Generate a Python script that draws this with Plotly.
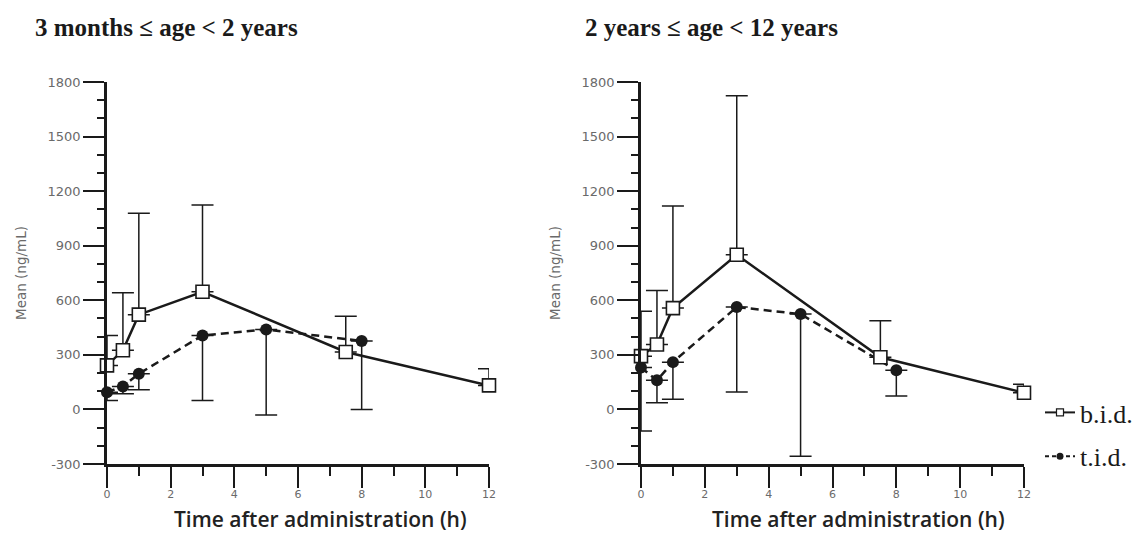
import plotly.graph_objects as go

# ---- data ----
time_bid = [0, 0.5, 1, 3, 7.5, 12]
time_tid = [0, 0.5, 1, 3, 5, 8]

left_bid_mean = [242, 325, 521, 647, 316, 132]
left_bid_upper = [407, 641, 1078, 1124, 512, 224]
left_tid_mean = [95, 126, 196, 407, 440, 376]
left_tid_lower = [49, 86, 108, 49, -30, 0]

right_bid_mean = [293, 357, 557, 850, 287, 92]
right_bid_upper = [540, 654, 1118, 1725, 488, 138]
right_tid_mean = [230, 160, 260, 563, 524, 215]
right_tid_lower = [-118, 37, 56, 96, -258, 74]

y_tick_vals = [-300, 0, 300, 600, 900, 1200, 1500, 1800]
y_tick_text = ["-300", "0", "300", "600", "900", "1200", "1500", "1800"]
x_tick_vals = [0, 2, 4, 6, 8, 10, 12]
x_tick_text = ["0", "2", "4", "6", "8", "10", "12"]

panel_titles = ["3 months \u2264 age < 2 years", "2 years \u2264 age < 12 years"]
x_title = "Time after administration (h)"
y_title = "Mean (ng/mL)"
series_names = ["b.i.d.", "t.i.d."]

BLACK = "#1a1a1a"
GRAY = "#6a6a6a"

fig = go.Figure()


def add_panel(xa, ya, bid_mean, bid_upper, tid_mean, tid_lower):
    fig.add_trace(go.Scatter(
        x=time_tid, y=tid_mean, mode="lines+markers", xaxis=xa, yaxis=ya,
        line=dict(color=BLACK, width=2.5, dash="8px,5px"),
        marker=dict(symbol="circle", size=12, color=BLACK),
        error_y=dict(type="data", symmetric=False,
                     array=[0] * len(tid_mean),
                     arrayminus=[m - l for m, l in zip(tid_mean, tid_lower)],
                     color=BLACK, thickness=1.5, width=11),
        cliponaxis=False, showlegend=False))
    fig.add_trace(go.Scatter(
        x=time_bid, y=bid_mean, mode="lines+markers", xaxis=xa, yaxis=ya,
        line=dict(color=BLACK, width=2.5),
        marker=dict(symbol="square", size=13, color="white",
                    line=dict(color=BLACK, width=1.6)),
        error_y=dict(type="data", symmetric=False,
                     array=[u - m for m, u in zip(bid_mean, bid_upper)],
                     arrayminus=[0] * len(bid_mean),
                     color=BLACK, thickness=1.5, width=11),
        cliponaxis=False, showlegend=False))


add_panel("x", "y", left_bid_mean, left_bid_upper, left_tid_mean, left_tid_lower)
add_panel("x2", "y2", right_bid_mean, right_bid_upper, right_tid_mean, right_tid_lower)

# legend-only entries
fig.add_trace(go.Scatter(
    x=[None], y=[None], mode="lines+markers", name=series_names[0],
    line=dict(color=BLACK, width=2),
    marker=dict(symbol="square", size=7, color="white", line=dict(color=BLACK, width=1.2)),
    legendgroup="a", xaxis="x2", yaxis="y2"))
fig.add_trace(go.Scatter(
    x=[None], y=[None], mode="lines+markers", name=series_names[1],
    line=dict(color=BLACK, width=2, dash="4px,3px"),
    marker=dict(symbol="circle", size=7, color=BLACK),
    legendgroup="b", xaxis="x2", yaxis="y2"))

W, H = 1147, 540
ydom = [(540 - 464) / H, (540 - 82) / H]


def xaxis(dom, anchor):
    return dict(domain=dom, anchor=anchor, range=[0, 12], showline=True,
                linecolor=BLACK, linewidth=2.5, showgrid=False, zeroline=False,
                automargin=False,
                ticks="outside", ticklen=21, tickwidth=2, tickcolor=BLACK,
                tickmode="array", tickvals=x_tick_vals, ticktext=x_tick_text,
                ticklabelstandoff=-3,
                minor=dict(dtick=1, tick0=0, ticks="outside", ticklen=9, tickwidth=2,
                           tickcolor=BLACK),
                tickfont=dict(family="DejaVu Sans", size=11, color=GRAY))


def yaxis(anchor):
    return dict(domain=ydom, anchor=anchor, range=[-300, 1800], showline=True,
                linecolor=BLACK, linewidth=2.5, showgrid=False, zeroline=False,
                automargin=False,
                ticks="outside", ticklen=21, tickwidth=2, tickcolor=BLACK,
                tickmode="array", tickvals=y_tick_vals, ticktext=y_tick_text,
                minor=dict(dtick=100, tick0=0, ticks="outside", ticklen=7, tickwidth=2,
                           tickcolor=BLACK),
                tickfont=dict(family="DejaVu Sans", size=13, color=GRAY),
                title=dict(text=y_title, standoff=18,
                           font=dict(family="DejaVu Sans", size=13.5, color=GRAY)))


fig.update_layout(
    width=W, height=H,
    margin=dict(l=0, r=0, t=0, b=0, autoexpand=False),
    paper_bgcolor="white", plot_bgcolor="white",
    xaxis=xaxis([107 / W, 489 / W], "y"),
    yaxis=yaxis("x"),
    xaxis2=xaxis([641 / W, 1024 / W], "y2"),
    yaxis2=yaxis("x2"),
    showlegend=True,
    legend=dict(x=1040 / W, xanchor="left", y=(540 - 389) / H, yanchor="top",
                bgcolor="rgba(0,0,0,0)", borderwidth=0, tracegroupgap=7,
                font=dict(family="Liberation Serif", size=26, color=BLACK)),
    annotations=[
        dict(text=panel_titles[0], xref="paper", yref="paper", x=33 / W, y=(540 - 28) / H,
             xanchor="left", yanchor="middle", showarrow=False,
             font=dict(family="Liberation Serif", size=25, color=BLACK, weight="bold")),
        dict(text=panel_titles[1], xref="paper", yref="paper", x=583 / W, y=(540 - 28) / H,
             xanchor="left", yanchor="middle", showarrow=False,
             font=dict(family="Liberation Serif", size=25, color=BLACK, weight="bold")),
        dict(text=x_title, xref="paper", yref="paper", x=320 / W, y=(540 - 519) / H,
             xanchor="center", yanchor="middle", showarrow=False,
             font=dict(family="Open Sans", size=21, color="#222222", weight=600)),
        dict(text=x_title, xref="paper", yref="paper", x=858 / W, y=(540 - 519) / H,
             xanchor="center", yanchor="middle", showarrow=False,
             font=dict(family="Open Sans", size=21, color="#222222", weight=600)),
    ],
)

fig.write_html("out.html")
